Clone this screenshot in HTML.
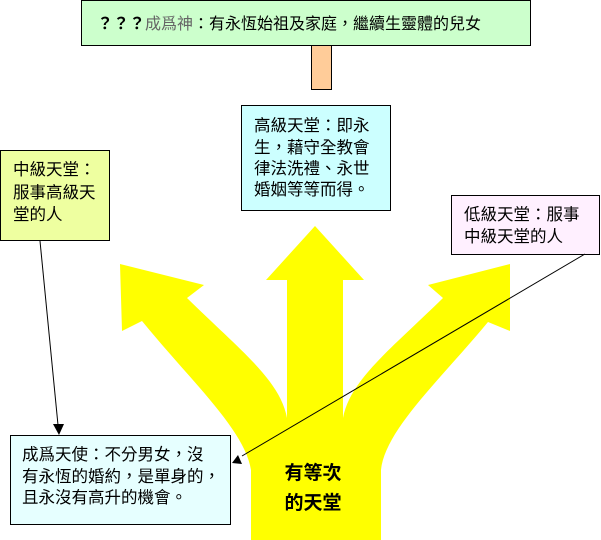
<!DOCTYPE html>
<html><head><meta charset="utf-8">
<style>
html,body{margin:0;padding:0;background:#fff;}
svg{display:block;}
text{font-family:"Liberation Sans","Noto Sans CJK TC",sans-serif;}
</style></head>
<body>
<svg width="601" height="540" viewBox="0 0 601 540" xmlns="http://www.w3.org/2000/svg">
<path fill="#ffff00" d="M251,540 L251,470 C245,430 190,380 142,321 L122,331 L120,264 L204,285 L187,298 C240,350 280,380 287,418 L287,280 L266,280 L315,226 L364,280 L343,280 L343,418 C350,380 390,350 443,298 L428,285 L510,264 L510,331 L488,322 C440,380 385,430 381,470 L381,540 Z"/>
<rect x="81.5" y="0.5" width="449" height="45" fill="#ccffcc" stroke="#000"/>
<text x="97" y="29" font-size="16"><tspan font-weight="bold">？？？</tspan><tspan fill="#666">成爲神</tspan>：有永恆始祖及家庭，繼續生靈體的兒女</text>
<rect x="311.5" y="45.5" width="20" height="44" fill="#ffcc99" stroke="#000"/>
<rect x="241.5" y="105.5" width="149" height="105" fill="#ccffff" stroke="#000"/>
<g font-size="16.5">
<text x="254" y="131">高級天堂：即永</text>
<text x="254" y="153">生，藉守全教會</text>
<text x="254" y="174">律法洗禮、永世</text>
<text x="254" y="195">婚姻等等而得。</text>
</g>
<rect x="0.5" y="150.5" width="109" height="90" fill="#eeffa0" stroke="#000"/>
<g font-size="16.5">
<text x="13" y="175">中級天堂：</text>
<text x="13" y="198">服事高級天</text>
<text x="13" y="220">堂的人</text>
</g>
<rect x="451.5" y="195.5" width="148" height="59" fill="#fff0ff" stroke="#000"/>
<g font-size="16.5">
<text x="464" y="220">低級天堂：服事</text>
<text x="464" y="242">中級天堂的人</text>
</g>
<rect x="10.5" y="435.5" width="220" height="89" fill="#e6ffff" stroke="#000"/>
<g font-size="16.5">
<text x="22" y="460">成爲天使：不分男女，沒</text>
<text x="22" y="482">有永恆的婚約，是單身的，</text>
<text x="22" y="503">且永沒有高升的機會。</text>
</g>
<line x1="40" y1="241" x2="58" y2="425" stroke="#000" stroke-width="1"/>
<polygon points="53,424 64,424 59,435" fill="#000"/>
<line x1="585" y1="254" x2="242" y2="456" stroke="#000" stroke-width="1"/>
<polygon points="238,460 244,452 248,461" fill="#000" transform="translate(-6,3)"/>
<g font-size="19" font-weight="bold">
<text x="313" y="479" text-anchor="middle">有等次</text>
<text x="313" y="509" text-anchor="middle">的天堂</text>
</g>
</svg>
</body></html>
